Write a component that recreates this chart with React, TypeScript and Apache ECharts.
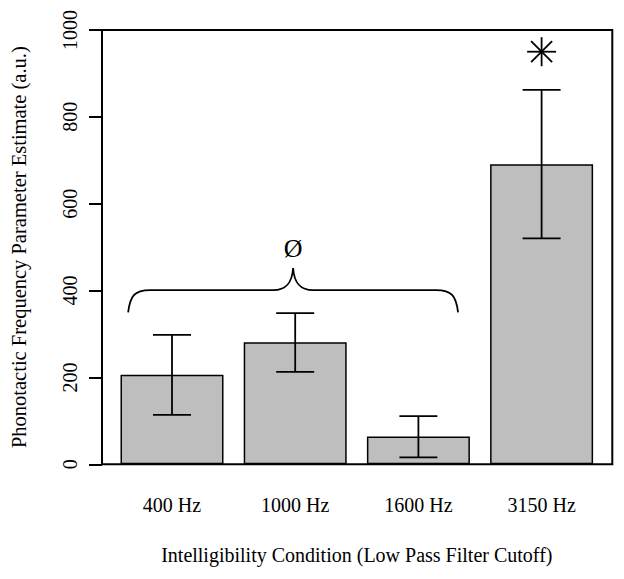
import React, { useEffect, useRef } from "react";
import * as echarts from "echarts";

const categories = ["400 Hz", "1000 Hz", "1600 Hz", "3150 Hz"];
const means = [206, 281, 64, 691];
const lowerErr = [114, 213, 16, 520];
const upperErr = [298, 348, 111, 862];
const yTicks = { min: 0, max: 1000, interval: 200 };

// annotations (data space)
const braceSpan = [-0.356, 2.322]; // category-index coordinates
const braceLevels = { end: 350, bar: 401, peak: 452 };
const braceLabel = "Ø";
const starPoint = [3, 950];

const FONT = "Liberation Serif";

export default function App() {
  const ref = useRef<HTMLDivElement>(null);
  useEffect(() => {
    const chart = echarts.init(ref.current!, null, { renderer: "svg" });
    const gridTop = 30;
    const gridBottom = 114.7;
    const option: any = {
      animation: false,
      backgroundColor: "#fff",
      textStyle: { fontFamily: FONT, color: "#000" },
      grid: [
        { left: 110.4, right: 20.8, top: gridTop, bottom: gridBottom, containLabel: false },
        {
          left: 102,
          right: 11.7,
          top: gridTop,
          bottom: gridBottom,
          show: true,
          borderColor: "#000",
          borderWidth: 2,
          backgroundColor: "transparent",
          z: 1,
        },
      ],
      xAxis: [
        {
          type: "category",
          gridIndex: 0,
          data: categories,
          axisLine: { show: false },
          axisTick: { show: false },
          axisLabel: { fontFamily: FONT, fontSize: 20, color: "#000", margin: 31 },
          name: "Intelligibility Condition (Low Pass Filter Cutoff)",
          nameLocation: "middle",
          nameGap: 81,
          nameTextStyle: { fontFamily: FONT, fontSize: 20, color: "#000" },
        },
        { type: "value", gridIndex: 1, show: false, min: 0, max: 1 },
      ],
      yAxis: [
        {
          type: "value",
          gridIndex: 0,
          min: yTicks.min,
          max: yTicks.max,
          interval: yTicks.interval,
          offset: 8.4,
          splitLine: { show: false },
          axisLine: { show: true, lineStyle: { color: "#000", width: 2 } },
          axisTick: { show: true, length: 13, lineStyle: { color: "#000", width: 2 } },
          axisLabel: {
            fontFamily: FONT,
            fontSize: 20,
            color: "#000",
            rotate: 90,
            margin: 22,
            formatter: (v: number) => String(v),
          },
          name: "Phonotactic Frequency Parameter Estimate (a.u.)",
          nameLocation: "middle",
          nameGap: 73,
          nameTextStyle: { fontFamily: FONT, fontSize: 20.5, color: "#000" },
        },
        { type: "value", gridIndex: 1, show: false, min: 0, max: 1 },
      ],
      series: [
        {
          type: "bar",
          xAxisIndex: 0,
          yAxisIndex: 0,
          data: means,
          barWidth: 103,
          itemStyle: { color: "#BEBEBE", borderColor: "#000", borderWidth: 1.5 },
          z: 2,
        },
        {
          type: "custom",
          xAxisIndex: 0,
          yAxisIndex: 0,
          z: 3,
          data: categories.map((_, i) => [i, lowerErr[i], upperErr[i]]),
          renderItem: (params: any, api: any) => {
            const x = api.value(0);
            const lo = api.coord([x, api.value(1)]);
            const hi = api.coord([x, api.value(2)]);
            const hw = 19;
            const style = { stroke: "#000", lineWidth: 1.8 };
            return {
              type: "group",
              children: [
                { type: "line", shape: { x1: lo[0], y1: lo[1], x2: hi[0], y2: hi[1] }, style },
                { type: "line", shape: { x1: lo[0] - hw, y1: lo[1], x2: lo[0] + hw, y2: lo[1] }, style },
                { type: "line", shape: { x1: hi[0] - hw, y1: hi[1], x2: hi[0] + hw, y2: hi[1] }, style },
              ],
            };
          },
        },
        {
          type: "custom",
          xAxisIndex: 0,
          yAxisIndex: 0,
          z: 3,
          data: [[0]],
          renderItem: (params: any, api: any) => {
            const p0 = api.coord([0, braceLevels.bar]);
            const p1 = api.coord([1, braceLevels.bar]);
            const step = p1[0] - p0[0];
            const xl = p0[0] + braceSpan[0] * step;
            const xr = p0[0] + braceSpan[1] * step;
            const xm = (xl + xr) / 2;
            const yb = p0[1];
            const ye = api.coord([0, braceLevels.end])[1];
            const yp = api.coord([0, braceLevels.peak])[1];
            const d =
              `M${xl},${ye} C${xl + 2},${yb + 6} ${xl + 6},${yb} ${xl + 22},${yb} ` +
              `L${xm - 20},${yb} C${xm - 8},${yb} ${xm - 1},${yb - 6} ${xm},${yp} ` +
              `C${xm + 1},${yb - 6} ${xm + 8},${yb} ${xm + 20},${yb} ` +
              `L${xr - 22},${yb} C${xr - 6},${yb} ${xr - 2},${yb + 6} ${xr},${ye}`;
            return {
              type: "group",
              children: [
                {
                  type: "path",
                  shape: { pathData: d },
                  style: { stroke: "#000", lineWidth: 1.8, fill: "none" },
                },
                {
                  type: "text",
                  x: xm,
                  y: yp - 19,
                  style: {
                    text: braceLabel,
                    font: `26px "${FONT}"`,
                    fill: "#000",
                    align: "center",
                    verticalAlign: "middle",
                  },
                },
              ],
            };
          },
        },
        {
          type: "custom",
          xAxisIndex: 0,
          yAxisIndex: 0,
          z: 3,
          data: [starPoint],
          renderItem: (params: any, api: any) => {
            const c = api.coord([api.value(0), api.value(1)]);
            const r = 14.5;
            const dg = 10.5;
            const style = { stroke: "#000", lineWidth: 1.8 };
            return {
              type: "group",
              children: [
                { type: "line", shape: { x1: c[0] - r, y1: c[1], x2: c[0] + r, y2: c[1] }, style },
                { type: "line", shape: { x1: c[0], y1: c[1] - r, x2: c[0], y2: c[1] + r }, style },
                { type: "line", shape: { x1: c[0] - dg, y1: c[1] - dg, x2: c[0] + dg, y2: c[1] + dg }, style },
                { type: "line", shape: { x1: c[0] - dg, y1: c[1] + dg, x2: c[0] + dg, y2: c[1] - dg }, style },
              ],
            };
          },
        },
      ],
    };
    chart.setOption(option);
    return () => chart.dispose();
  }, []);
  return <div ref={ref} style={{ width: 624, height: 579, position: "absolute", left: 0, top: 0 }} />;
}
